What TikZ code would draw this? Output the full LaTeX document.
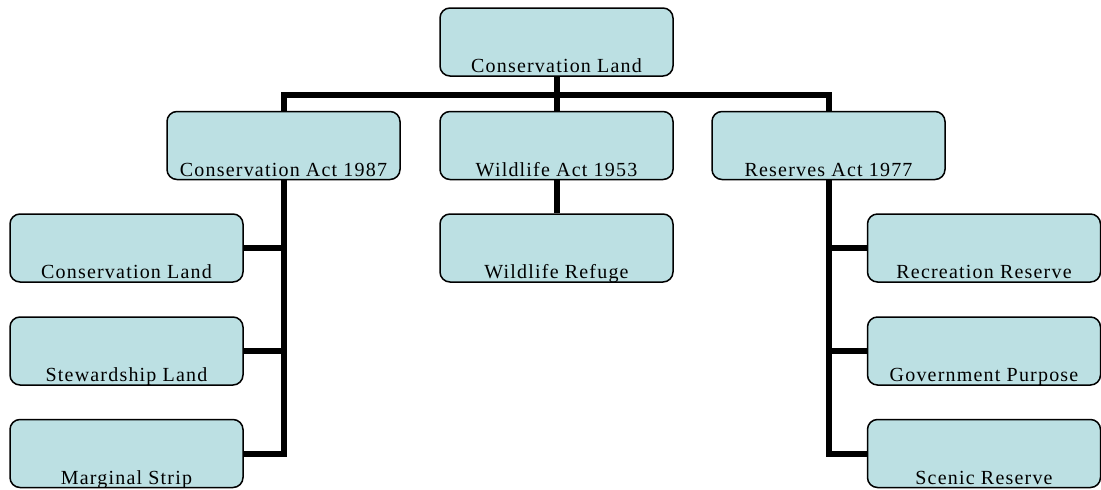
\documentclass[tikz,border=0pt]{standalone}
\usepackage{fontspec}
\setmainfont{Liberation Serif}[LetterSpace=6]
\definecolor{boxfill}{RGB}{188,224,227}
\tikzset{
  box/.style={draw=black, line width=1.5pt, fill=boxfill, rounded corners=10pt,
    minimum width=233pt, minimum height=68pt, inner sep=0pt,
    path picture={\node[anchor=base, inner sep=0pt, font=\fontsize{20}{23}\selectfont]
      at ([yshift=3.5pt]path picture bounding box.south) {#1};}},
  conn/.style={line width=6pt, line join=miter}
}
\begin{document}
\begin{tikzpicture}[x=1pt,y=-1pt]
\useasboundingbox (0,0) rectangle (1101,490);
\node[box={Conservation Land}] (top) at (556.5,42) {};
\node[box={Conservation Act 1987}] (ca) at (283.5,145.5) {};
\node[box={Wildlife Act 1953}] (wa) at (556.5,145.5) {};
\node[box={Reserves Act 1977}] (ra) at (828.5,145.5) {};
\node[box={Conservation Land}] (l1) at (126.5,248) {};
\node[box={Stewardship Land}] (l2) at (126.5,351) {};
\node[box={Marginal Strip}] (l3) at (126.5,453.5) {};
\node[box={Wildlife Refuge}] (wr) at (556.5,248) {};
\node[box={Recreation Reserve}] (r1) at (984,248) {};
\node[box={Government Purpose}] (r2) at (984,351) {};
\node[box={Scenic Reserve}] (r3) at (984,453.5) {};
\coordinate (bus) at (556.5,95);
\draw[conn] (top.south) -- (top.south |- bus);
\draw[conn] (ca.north) -- (ca.north |- bus) -- (ra.north |- bus) -- (ra.north);
\draw[conn] (wa.north) -- (wa.north |- bus);
\draw[conn] (wa.south) -- (wr.north);
\draw[conn] (ca.south) |- (l3.east);
\draw[conn] (l1.east) -- (l1.east -| ca.south);
\draw[conn] (l2.east) -- (l2.east -| ca.south);
\draw[conn] (ra.south) |- (r3.west);
\draw[conn] (r1.west) -- (r1.west -| ra.south);
\draw[conn] (r2.west) -- (r2.west -| ra.south);
\end{tikzpicture}
\end{document}
